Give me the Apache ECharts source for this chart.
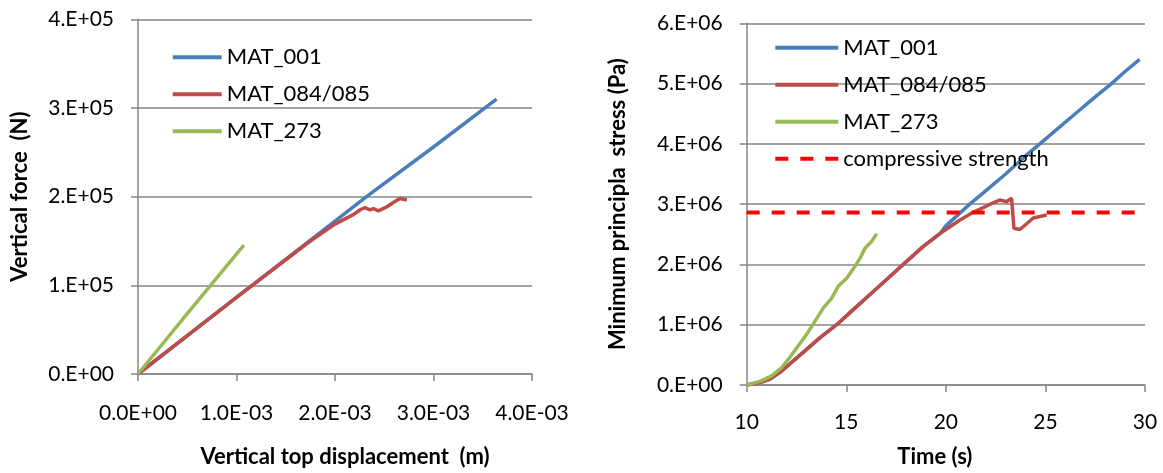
<!DOCTYPE html>
<html>
<head>
<meta charset="utf-8">
<script src="https://cdn.jsdelivr.net/npm/echarts@6/dist/echarts.min.js"></script>
<style>
	html, body { margin: 0; padding: 0; background: #fff; }
	#chart { width: 1163px; height: 473px; }
</style>
</head>
<body>
<div id="chart"></div>
<script>
// left chart: vertical force (N) vs vertical top displacement (m)
var dispForce001 = [[0, 0], [1.0e-3, 0.865e5], [2.0e-3, 1.725e5], [2.32e-3, 2.0e5], [3.0e-3, 2.56e5], [3.64e-3, 3.10e5]];
var dispForce084 = [[0, 0], [1.0e-3, 0.865e5], [1.75e-3, 1.5e5], [2.0e-3, 1.69e5], [2.19e-3, 1.80e5],
	[2.26e-3, 1.855e5], [2.305e-3, 1.877e5], [2.355e-3, 1.85e5], [2.39e-3, 1.866e5], [2.44e-3, 1.84e5],
	[2.525e-3, 1.884e5], [2.6e-3, 1.94e5], [2.66e-3, 1.98e5], [2.73e-3, 1.963e5]];
var dispForce273 = [[0, 0], [0.5e-3, 0.68e5], [1.075e-3, 1.454e5]];

// right chart: minimum principal stress (Pa) vs time (s)
var timeStressCommon = [[10, 0], [10.58, 0.033e6], [11.17, 0.10e6], [11.67, 0.21e6], [12.34, 0.40e6],
	[13.01, 0.59e6], [13.68, 0.785e6], [14.52, 1.00e6], [15.35, 1.25e6], [16.36, 1.55e6],
	[17.19, 1.80e6], [18.03, 2.05e6], [18.87, 2.30e6], [19.70, 2.51e6]];
var timeStress001 = timeStressCommon.concat([[20.0, 2.64e6], [21.2, 3.0e6], [22.0, 3.22e6], [23.0, 3.50e6],
	[24.0, 3.80e6], [24.72, 4.0e6], [25.5, 4.22e6], [26.5, 4.5e6], [27.5, 4.78e6], [28.32, 5.0e6],
	[29.0, 5.2e6], [29.73, 5.40e6]]);
var timeStress084 = timeStressCommon.concat([[20.0, 2.58e6], [20.67, 2.73e6], [21.39, 2.87e6], [21.93, 2.95e6],
	[22.29, 3.01e6], [22.72, 3.07e6], [23.05, 3.04e6], [23.30, 3.10e6], [23.42, 2.60e6], [23.72, 2.58e6],
	[23.97, 2.65e6], [24.39, 2.77e6], [25.06, 2.82e6]]);
var timeStress273 = [[10, 0], [10.67, 0.06e6], [11.25, 0.15e6], [11.76, 0.29e6], [12.17, 0.46e6],
	[12.59, 0.65e6], [13.01, 0.84e6], [13.43, 1.06e6], [13.85, 1.28e6], [14.27, 1.44e6], [14.60, 1.64e6],
	[15.02, 1.77e6], [15.44, 1.97e6], [15.69, 2.10e6], [15.94, 2.27e6], [16.27, 2.38e6], [16.53, 2.51e6]];
var compressiveStrength = [[10, 2.86e6], [29.7, 2.86e6]];

var seriesNames = ['MAT_001', 'MAT_084/085', 'MAT_273', 'compressive strength'];
var seriesColors = ['#4a7ebb', '#be4b48', '#98b954', '#ff0000'];

var fontFamily = 'Lato, "Open Sans", sans-serif';
var gridColor = '#868686';

function lineSeries(pIndex, pData, pGrid) {
	return {
		name: seriesNames[pIndex], type: 'line', data: pData,
		xAxisIndex: pGrid, yAxisIndex: pGrid,
		showSymbol: false, symbol: 'none', animation: false,
		lineStyle: { color: seriesColors[pIndex], width: 3.5 },
		itemStyle: { color: seriesColors[pIndex] }
	};
}

function valueAxis(pOptions) {
	return {
		type: 'value', gridIndex: pOptions.grid,
		min: pOptions.min, max: pOptions.max, interval: pOptions.interval,
		axisLine: { show: true, lineStyle: { color: gridColor, width: 1.5 } },
		axisTick: { show: true, inside: false, length: 7, lineStyle: { color: gridColor, width: 1.5 } },
		splitLine: { show: pOptions.split, lineStyle: { color: gridColor, width: 1.5 } },
		axisLabel: { color: '#000', fontFamily: fontFamily, fontSize: 21, margin: pOptions.margin, formatter: pOptions.formatter },
		name: pOptions.name, nameLocation: 'middle', nameGap: pOptions.nameGap,
		nameTextStyle: { color: '#000', fontFamily: fontFamily, fontSize: 22, fontWeight: 'bold', padding: pOptions.namePadding || 0 }
	};
}

function legend(pLeft, pTop, pWidth, pNames) {
	return {
		orient: 'vertical', left: pLeft, top: pTop, padding: 0,
		itemWidth: pWidth, itemHeight: 14, itemGap: 15,
		data: pNames,
		itemStyle: { opacity: 0 },	// hide the marker symbol, keep the line
		lineStyle: { width: 4 },
		textStyle: { color: '#000', fontFamily: fontFamily, fontSize: 22, lineHeight: 22 }
	};
}

var chart = echarts.init(document.getElementById('chart'));
chart.setOption({
	animation: false,
	backgroundColor: '#fff',
	grid: [
		{ left: 138, top: 19.3, width: 394, height: 356.2 },
		{ left: 746.7, top: 23.3, width: 398.3, height: 364.4 }
	],
	legend: [
		legend(170.7, 46.3, 49, seriesNames.slice(0, 3)),
		legend(773.3, 36.7, 63, seriesNames)
	],
	xAxis: [
		valueAxis({ grid: 0, min: 0, max: 4e-3, interval: 1e-3, split: false, margin: 29,
			name: 'Vertical top displacement  (m)', nameGap: 72, namePadding: [0, 0, 0, 20],
			formatter: function (v) { return (v * 1e3).toFixed(1) + (v === 0 ? 'E+00' : 'E-03'); } }),
		valueAxis({ grid: 1, min: 10, max: 30, interval: 5, split: false, margin: 27,
			name: 'Time (s)', nameGap: 61, namePadding: [0, 22, 0, 0] })
	],
	yAxis: [
		valueAxis({ grid: 0, min: 0, max: 4e5, interval: 1e5, split: true, margin: 24,
			name: 'Vertical force  (N)', nameGap: 107,
			formatter: function (v) { return v === 0 ? '0.E+00' : Math.round(v / 1e5) + '.E+05'; } }),
		valueAxis({ grid: 1, min: 0, max: 6e6, interval: 1e6, split: true, margin: 24,
			name: 'Minimum principla  stress (Pa)', nameGap: 118,
			formatter: function (v) { return v === 0 ? '0.E+00' : Math.round(v / 1e6) + '.E+06'; } })
	],
	series: [
		lineSeries(0, dispForce001, 0),
		lineSeries(1, dispForce084, 0),
		lineSeries(2, dispForce273, 0),
		lineSeries(0, timeStress001, 1),
		lineSeries(1, timeStress084, 1),
		lineSeries(2, timeStress273, 1),
		Object.assign(lineSeries(3, compressiveStrength, 1), {
			lineStyle: { color: seriesColors[3], width: 4, type: [13, 12], cap: 'butt' }
		})
	]
});
</script>
</body>
</html>
